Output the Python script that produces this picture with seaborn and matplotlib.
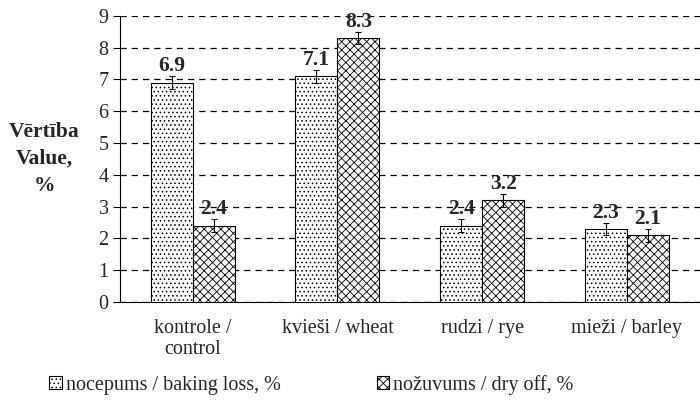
import numpy as np
import pandas as pd
import seaborn as sns
import matplotlib.pyplot as plt

categories = ["kontrole /\ncontrol", "kvieši / wheat", "rudzi / rye", "mieži / barley"]
series = ["nocepums / baking loss, %", "nožuvums / dry off, %"]
baking_loss = [6.9, 7.1, 2.4, 2.3]
dry_off = [2.4, 8.3, 3.2, 2.1]
baking_err = [0.2, 0.2, 0.2, 0.2]
dry_err = [0.2, 0.2, 0.2, 0.2]

df = pd.DataFrame({
    "cat": categories * 2,
    "series": [series[0]] * 4 + [series[1]] * 4,
    "value": baking_loss + dry_off,
    "err": baking_err + dry_err,
})

sns.set_style("white")
plt.rcParams["font.family"] = ["Liberation Serif", "DejaVu Serif"]
plt.rcParams["hatch.linewidth"] = 0.6

fig = plt.figure(figsize=(7, 4.16), dpi=100)
ax = fig.add_axes([0.172, 0.274, 0.835, 0.688])

sns.barplot(data=df, x="cat", y="value", hue="series", order=categories,
            hue_order=series, palette=["white", "white"], edgecolor="black",
            linewidth=0.8, width=0.58, errorbar=None, ax=ax, zorder=3)

hatches = ["....", "xxxx"]
for cont, h in zip(ax.containers, hatches):
    for bar in cont:
        bar.set_hatch(h)

errs = [baking_err, dry_err]
for cont, e in zip(ax.containers, errs):
    xs = [b.get_x() + b.get_width() / 2 for b in cont]
    hs = [b.get_height() for b in cont]
    ax.errorbar(xs, hs, yerr=e, fmt="none", ecolor="black", elinewidth=0.8,
                capsize=2.5, capthick=0.8, zorder=4)
    for x, h, ee in zip(xs, hs, e):
        ax.text(x, h + ee + 0.0, f"{h:.1f}", ha="center", va="bottom",
                fontsize=15.5, fontweight="bold")

ax.set_ylim(0, 9)
ax.set_yticks(range(10))
ax.set_xlim(-0.5, 3.54)
ax.yaxis.grid(True, linestyle=(0, (5, 4)), color="black", linewidth=0.9)
ax.set_axisbelow(True)

ax.set_xticks([-0.5, 0.5, 1.5, 2.5], minor=False)
ax.set_xticklabels([])
ax.set_xticks(range(4), minor=True)
ax.set_xticklabels(categories, minor=True, fontsize=14.5)
ax.tick_params(axis="x", which="minor", length=0, pad=12)
ax.tick_params(axis="x", which="major", length=5, direction="out", color="black", width=0.8)
ax.tick_params(axis="y", length=5, direction="out", color="black", width=0.8,
               labelsize=14.5, left=True)

for s in ["top", "right"]:
    ax.spines[s].set_visible(False)
for s in ["left", "bottom"]:
    ax.spines[s].set_color("black")
    ax.spines[s].set_linewidth(0.8)

ax.set_xlabel("")
ax.set_ylabel("Vērtība\nValue,\n%", rotation=0, fontsize=15.5, fontweight="bold",
              labelpad=39, va="center", linespacing=1.45)

handles, labels = ax.get_legend_handles_labels()
for hnd, h in zip(handles, hatches):
    hnd.set_hatch(h)
ax.legend(handles, labels, loc="center", bbox_to_anchor=(0.327, -0.29), ncol=2,
          frameon=False, fontsize=14.5, handlelength=0.6, handleheight=0.6,
          handletextpad=0.2, columnspacing=4.8)

fig.savefig("out.png", dpi=100)
